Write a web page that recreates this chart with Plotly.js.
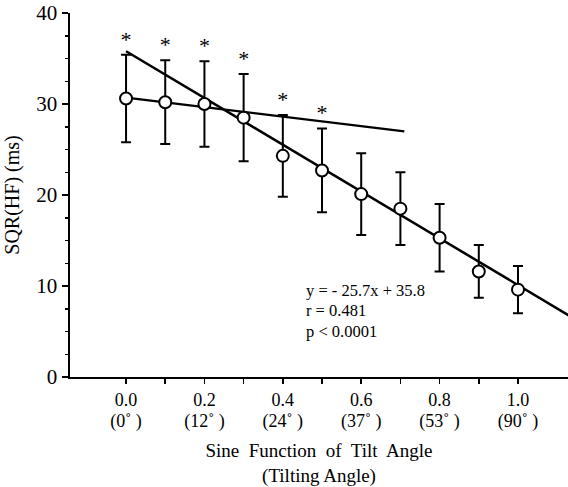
<!DOCTYPE html>
<html>
<head>
<meta charset="utf-8">
<script src="https://cdn.plot.ly/plotly-3.0.1.min.js"></script>
<style>html,body{margin:0;padding:0;background:#fff;}#chart{width:568px;height:487px;}</style>
</head>
<body>
<div id="chart"></div>
<script>
// ---- data ----
const sineTilt = [0.0, 0.1, 0.2, 0.3, 0.4, 0.5, 0.6, 0.7, 0.8, 0.9, 1.0];
const sqrHF    = [30.6, 30.2, 30.0, 28.5, 24.3, 22.7, 20.1, 18.5, 15.3, 11.6, 9.6];
const sdHF     = [4.8, 4.6, 4.7, 4.8, 4.5, 4.6, 4.5, 4.0, 3.7, 2.9, 2.6];
const significant = [true, true, true, true, true, true, false, false, false, false, false];

const tickValues = [0.0, 0.1, 0.2, 0.3, 0.4, 0.5, 0.6, 0.7, 0.8, 0.9, 1.0];
const tickSine   = ["0.0", "", "0.2", "", "0.4", "", "0.6", "", "0.8", "", "1.0"];
const tickAngle  = ["(0˚ )", "", "(12˚ )", "", "(24˚ )", "", "(37˚ )", "", "(53˚ )", "", "(90˚ )"];

const fitSlope = -25.7;
const fitIntercept = 35.8;
const fitX = [0.0, 1.14];

const flatLineX = [0.0, 0.71];
const flatLineY = [30.7, 27.0];

const statsLines = ["y = - 25.7x + 35.8", "r = 0.481", "p < 0.0001"];
const xTitleLines = ["Sine&nbsp; Function&nbsp; of&nbsp; Tilt&nbsp; Angle", "(Tilting Angle)"];

// ---- chart ----
const FONT = "Liberation Serif, Times New Roman, serif";
const XRANGE = [-0.143, 1.1276];

const sigX = [], sigY = [];
sineTilt.forEach((x, i) => { if (significant[i]) { sigX.push(x); sigY.push(sqrHF[i] + sdHF[i] + 1.5); } });

const traces = [
  {
    x: fitX, y: fitX.map(x => fitSlope * x + fitIntercept),
    mode: 'lines', line: {color: '#000', width: 2.5}, hoverinfo: 'skip'
  },
  {
    x: flatLineX, y: flatLineY,
    mode: 'lines', line: {color: '#000', width: 2.2}, hoverinfo: 'skip'
  },
  {
    x: sineTilt, y: sqrHF,
    mode: 'markers',
    marker: {symbol: 'circle', size: 12, color: '#fff', line: {color: '#000', width: 2}},
    error_y: {type: 'data', array: sdHF, visible: true, color: '#000', thickness: 2, width: 5}
  },
  {
    x: sigX, y: sigY, mode: 'text', text: sigX.map(() => '*'),
    textposition: 'middle center',
    textfont: {family: FONT, size: 22, color: '#000'}, hoverinfo: 'skip'
  },
  { // invisible trace to activate the second (angle) tick row
    x: [sineTilt[0]], y: [sqrHF[0]], xaxis: 'x2', mode: 'markers',
    marker: {opacity: 0}, hoverinfo: 'skip'
  }
];

const layout = {
  width: 568, height: 487,
  margin: {l: 70, r: 0, t: 13, b: 110},
  paper_bgcolor: '#fff', plot_bgcolor: '#fff',
  showlegend: false,
  font: {family: FONT, color: '#000'},
  xaxis: {
    range: XRANGE, automargin: false,
    tickvals: tickValues, ticktext: tickSine,
    ticks: 'outside', ticklen: 5, tickwidth: 1.5, tickcolor: '#000',
    showline: true, linecolor: '#000', linewidth: 2,
    showgrid: false, zeroline: false,
    tickfont: {family: FONT, size: 18, color: '#000'},
    title: {text: xTitleLines[0], font: {family: FONT, size: 19, color: '#000'}, standoff: 35}
  },
  xaxis2: {
    range: XRANGE, overlaying: 'x', anchor: 'y', side: 'bottom', automargin: false,
    tickvals: tickValues, ticktext: tickAngle,
    ticks: '', showline: false, showgrid: false, zeroline: false,
    ticklabelstandoff: 31,
    tickfont: {family: FONT, size: 18, color: '#000'},
    title: {text: xTitleLines[1], font: {family: FONT, size: 19, color: '#000'}, standoff: 37}
  },
  yaxis: {
    range: [0, 40], automargin: false,
    tickvals: [0, 10, 20, 30, 40],
    ticks: 'outside', ticklen: 6, tickwidth: 2, tickcolor: '#000',
    minor: {dtick: 2.5, ticks: 'outside', ticklen: 3, tickwidth: 1.5, tickcolor: '#000'},
    showline: true, linecolor: '#000', linewidth: 2.5,
    showgrid: false, zeroline: false,
    tickfont: {family: FONT, size: 21, color: '#000'},
    title: {text: 'SQR(HF) (ms)', font: {family: FONT, size: 20, color: '#000'}, standoff: 12}
  },
  annotations: statsLines.map((t, i) => ({
    xref: 'x', yref: 'y', x: 0.455, y: 9.56 - 2.3 * i, xanchor: 'left', yanchor: 'middle', align: 'left',
    showarrow: false, text: t,
    font: {family: FONT, size: 16.5, color: '#000'}
  }))
};

Plotly.newPlot('chart', traces, layout, {displayModeBar: false, staticPlot: true});
</script>
</body>
</html>
